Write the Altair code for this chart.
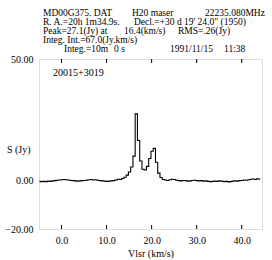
import altair as alt
import pandas as pd

# channel grid (km/s)
v_start = -4.9
v_step = 0.5
flux = [
    -0.4, -0.5, -0.4, -0.5, -0.3, -0.4, -0.2, -0.1, 0.1, 0.2,
    0.3, 0.4, 0.3, 0.2, 0.0, -0.1, -0.2, -0.3, -0.2, -0.1,
    0.0, 0.1, 0.3, 0.4, 0.2, 0.3, 0.1, -0.1, -0.2, -0.3,
    -0.4, -0.3, -0.2, -0.1, 0.2, 0.5, 0.4, 0.8, 1.3, 2.2,
    3.5, 5.5, 10.0, 27.4, 16.5, 8.0, 4.6, 4.3, 5.8, 9.0,
    12.0, 13.2, 7.5, 3.0, 1.2, 0.4, 0.2, 0.0, 0.3, 0.5,
    0.4, 0.1, -0.1, -0.2, 0.0, -0.1, -0.3, -0.2, 0.0, 0.1,
    -0.1, -0.2, -0.1, -0.3, -0.2, -0.4, -0.5, -0.4, -0.3, -0.4,
    -0.2, -0.3, -0.5, -0.4, -0.6, -0.5, -0.3, -0.2, -0.3, -0.1,
    0.0, 0.2, 0.1, 0.3, 0.5, 0.6, 0.4, 0.7, 0.5,
]
velocity = [round(v_start + v_step * i, 2) for i in range(len(flux))]
x_ticks = [0, 10, 20, 30, 40]
y_ticks = [-20, 0, 50]

spec = pd.DataFrame({"v": velocity, "s": flux})
ticks = pd.DataFrame({"t": x_ticks})

FONT = "Liberation Serif"
W, H = 223, 170

xs = alt.Scale(domain=[-5, 44.5], nice=False, zero=False)
ys = alt.Scale(domain=[-20, 50], nice=False, zero=False)

line = alt.Chart(spec).mark_line(color="black", strokeWidth=1.1, interpolate="step").encode(
    x=alt.X("v:Q", scale=xs, title="Vlsr (km/s)",
            axis=alt.Axis(values=x_ticks, format=".1f", ticks=False, domain=False, grid=False,
                          labelFont=FONT, labelFontSize=10, labelColor="black", labelPadding=6,
                          titleFont=FONT, titleFontSize=10, titleFontWeight="normal",
                          titleColor="black", titlePadding=3)),
    y=alt.Y("s:Q", scale=ys, title="S (Jy)",
            axis=alt.Axis(values=y_ticks, format=".2f", ticks=False, domain=False, grid=False,
                          labelFont=FONT, labelFontSize=10, labelColor="black", labelPadding=6,
                          titleFont=FONT, titleFontSize=10, titleFontWeight="normal",
                          titleColor="black", titleAngle=0, titleAlign="right",
                          titleBaseline="middle", titleX=-9, titleY=90)),
)

bottom_ticks = alt.Chart(ticks).mark_rule(color="black", strokeWidth=1).encode(
    x=alt.X("t:Q", scale=xs), y=alt.value(H - 4), y2=alt.value(H)
)
top_ticks = alt.Chart(ticks).mark_rule(color="black", strokeWidth=1).encode(
    x=alt.X("t:Q", scale=xs), y=alt.value(0), y2=alt.value(4)
)

def label(text, x, y, size=9.5):
    return alt.Chart(pd.DataFrame({"a": [0]})).mark_text(
        text=text, font=FONT, fontSize=size, color="black", align="left", baseline="middle"
    ).encode(x=alt.value(x), y=alt.value(y))

ox, oy = 39, 59
texts = [
    ("MD00G375. DAT", 43, 13), ("H20  maser", 132, 13), ("22235.080MHz", 205, 13),
    ("R. A.=20h  1m34.9s.", 43, 22), ("Decl.=+30 d 19' 24.0\"  (1950)", 134, 22),
    ("Peak=27.1(Jy)  at", 43, 31), ("16.4(km/s)", 124, 31), ("RMS=.26(Jy)", 178, 31),
    ("Integ. Int.=67.0(Jy.km/s)", 43, 40),
    ("Integ.=10m", 64, 49), ("0 s", 114, 49), ("1991/11/15", 170, 49), ("11:38", 224, 49),
]
layers = [line, bottom_ticks, top_ticks] + [label(t, x - ox, y - oy) for t, x, y in texts]
layers.append(label("20015+3019", 53 - ox, 73 - oy, size=10))

chart = alt.layer(*layers).properties(
    width=W, height=H,
    padding={"left": ox, "top": oy, "right": 272 - ox - W, "bottom": 260 - oy - H},
    autosize=alt.AutoSizeParams(type="none"),
).configure_view(stroke="black", strokeWidth=2).configure(background="white")

chart.save("out.html", embed_options={"renderer": "svg", "actions": False})
